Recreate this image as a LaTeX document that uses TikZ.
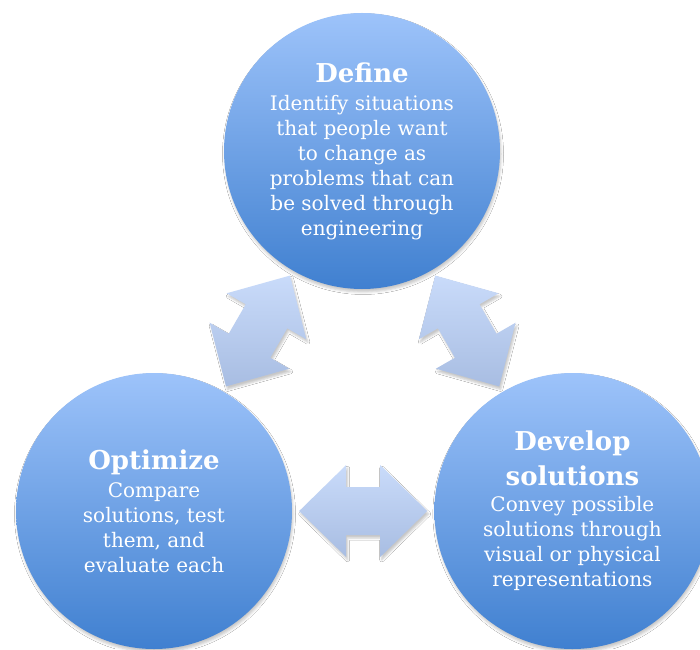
\documentclass[tikz,border=0pt]{standalone}
\usepackage{fontspec}
\setmainfont{DejaVu Serif}
\usetikzlibrary{positioning,calc,shadows.blur}

\definecolor{stagetop}{RGB}{157,195,250}
\definecolor{stagebottom}{RGB}{64,128,208}
\definecolor{linktop}{RGB}{201,219,250}
\definecolor{linkbottom}{RGB}{168,189,226}

\tikzset{
  stage/.style={circle,minimum size=276pt,inner sep=0pt,
    top color=stagetop,bottom color=stagebottom,text=white,align=center,
    font=\fontsize{20}{25}\selectfont,
    blur shadow={shadow xshift=1pt,shadow yshift=-3pt,shadow blur radius=2.5pt,shadow opacity=22}},
  linkarrow/.style={top color=linktop,bottom color=linkbottom,
    blur shadow={shadow xshift=1.5pt,shadow yshift=-3pt,shadow blur radius=2pt,shadow opacity=22}},
}
\newcommand{\stagetitle}[1]{{\bfseries\fontsize{26}{26}\selectfont #1}}
% double arrow between two stages, #3 = direction
\newcommand{\linkarrow}[3]{%
  \coordinate (m) at ($(#1)!.5!(#2)$);
  \path[linkarrow] ($(m)+(#3:64)$)
    -- ($(m)+(#3:17)+(#3+90:46)$) -- ($(m)+(#3:17)+(#3+90:24)$)
    -- ($(m)+(#3:-17)+(#3+90:24)$) -- ($(m)+(#3:-17)+(#3+90:46)$)
    -- ($(m)+(#3:-64)$)
    -- ($(m)+(#3:-17)+(#3-90:46)$) -- ($(m)+(#3:-17)+(#3-90:24)$)
    -- ($(m)+(#3:17)+(#3-90:24)$) -- ($(m)+(#3:17)+(#3-90:46)$) -- cycle;}

\begin{document}
\begin{tikzpicture}[x=1pt,y=1pt]
  \useasboundingbox[fill=white] (0,0) rectangle (700,649);

  \node[stage] (def) at (362,498) {\stagetitle{Define}\\[3pt]
    Identify situations\\ that people want\\ to change as\\
    problems that can\\ be solved through\\ engineering};
  \node[stage] (opt) at (154,138) {\stagetitle{Optimize}\\[3pt]
    Compare\\ solutions, test\\ them, and\\ evaluate each};
  \node[stage,right=142pt of opt] (dev) {\stagetitle{Develop}\\[9pt]
    \stagetitle{solutions}\\[1pt]
    Convey possible\\ solutions through\\ visual or physical\\ representations};

  \linkarrow{opt}{def}{60}
  \linkarrow{def}{dev}{-60}
  \linkarrow{opt}{dev}{0}
\end{tikzpicture}
\end{document}
